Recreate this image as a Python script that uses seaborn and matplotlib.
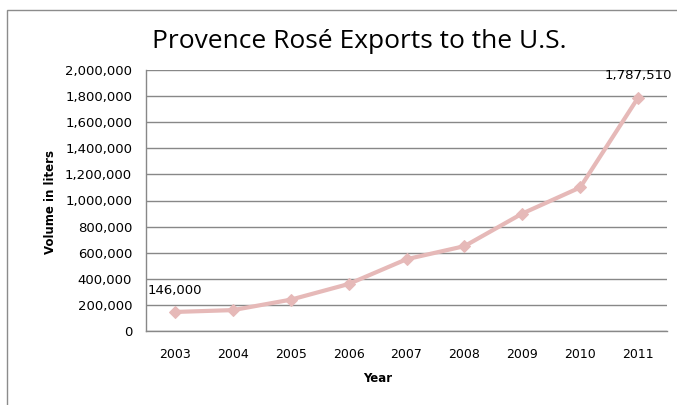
import pandas as pd
import seaborn as sns
import matplotlib.pyplot as plt
from matplotlib.patches import Rectangle

# data
years = ['2003', '2004', '2005', '2006', '2007', '2008', '2009', '2010', '2011']
volume = [146000, 160000, 240000, 360000, 550000, 650000, 900000, 1100000, 1787510]
df = pd.DataFrame({'Year': years, 'Volume': volume})

sns.set_style("white")
plt.rcParams['font.family'] = ['DejaVu Sans']
plt.rcParams['text.color'] = 'black'
plt.rcParams['xtick.color'] = 'black'
plt.rcParams['ytick.color'] = 'black'

fig = plt.figure(figsize=(6.77, 4.05), dpi=100)
ax = fig.add_axes([146/677, 1 - 331/405, 521/677, 261/405])

sns.lineplot(x='Year', y='Volume', data=df, ax=ax, color='#E6B9B8',
             linewidth=3, marker='D', markersize=6, markeredgecolor='#E6B9B8')

ax.set_xlim(-0.5, len(years) - 0.5)
ax.set_ylim(0, 2000000)
ax.set_yticks(range(0, 2000001, 200000))
ax.set_yticklabels([f'{v:,}' for v in range(0, 2000001, 200000)], fontsize=9.5)
ax.tick_params(axis='x', labelsize=9, pad=12, length=0)
ax.tick_params(axis='y', pad=10, length=0)
ax.grid(axis='y', color='#888888', linewidth=1)
ax.set_axisbelow(True)
for s in ['top', 'right']:
    ax.spines[s].set_visible(False)
for s in ['left', 'bottom']:
    ax.spines[s].set_color('#888888')
    ax.spines[s].set_linewidth(1)

ax.set_xlabel('')
ax.set_ylabel('')
fig.text(50/677, 1 - 202/405, 'Volume in liters', rotation=90, fontsize=8.5,
         fontweight='bold', ha='center', va='center')
fig.text(378/677, 1 - 378/405, 'Year', fontsize=8.5, fontweight='bold',
         ha='center', va='center')
fig.text(359/677, 1 - 42/405, 'Provence Rosé Exports to the U.S.', fontsize=19,
         family=['Open Sans', 'DejaVu Sans'], ha='center', va='center')

# data labels on first and last points
ax.annotate(f'{volume[0]:,}', (0, volume[0]), xytext=(0, 11), textcoords='offset points',
            ha='center', va='bottom', fontsize=9.5)
ax.annotate(f'{volume[-1]:,}', (len(years) - 1, volume[-1]), xytext=(0, 11),
            textcoords='offset points', ha='center', va='bottom', fontsize=9.5)

# chart area border
fig.patches.append(Rectangle((7/677, -0.1), 1.1, 1.1 - 10/405,
                             transform=fig.transFigure, fill=False,
                             edgecolor='#8c8c8c', linewidth=1))

fig.savefig('out.png', dpi=100)
